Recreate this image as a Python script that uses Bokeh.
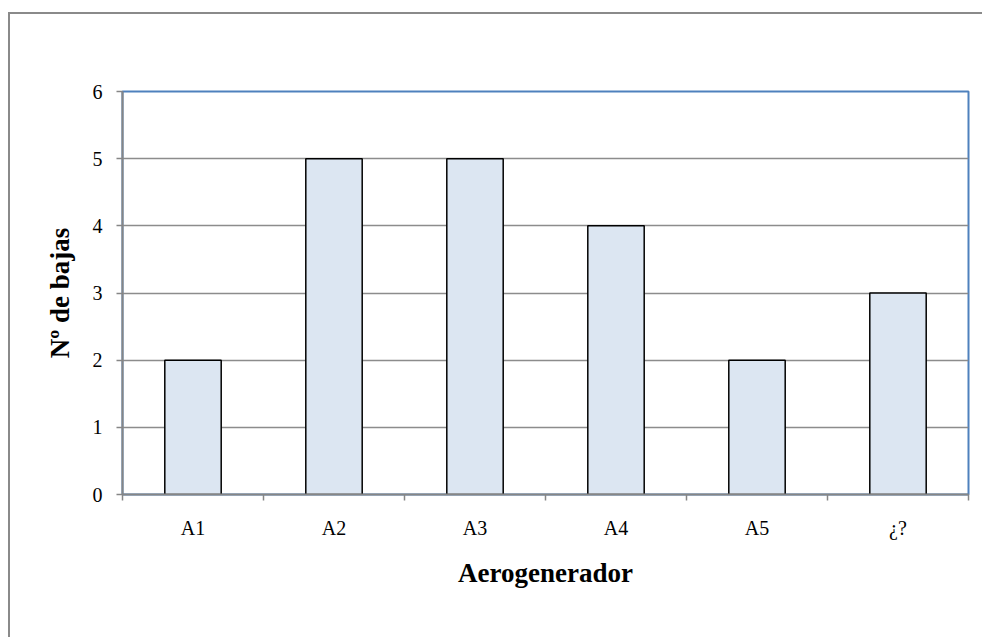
import numpy as np
from bokeh.plotting import figure
from bokeh.models import Range1d, FixedTicker, ColumnDataSource
from bokeh.embed import file_html
from bokeh.resources import INLINE

categories = ["A1", "A2", "A3", "A4", "A5", "¿?"]
bajas = [2, 5, 5, 4, 2, 3]
y_ticks = [0, 1, 2, 3, 4, 5, 6]

xpos = np.arange(len(categories)) + 0.5
src = ColumnDataSource(dict(x=xpos, top=bajas, cat=categories))

p = figure(width=974, height=625, output_backend="svg", toolbar_location=None,
           x_range=Range1d(0, len(categories)), y_range=Range1d(0, 6),
           min_border_left=112, min_border_top=77, min_border_right=16, min_border_bottom=145)
p.styles = {"border-left": "2px solid #8a8a8a", "border-top": "2px solid #8a8a8a",
            "margin-top": "12px", "margin-left": "8px"}

p.vbar(x="x", top="top", width=0.4, source=src, fill_color="#DCE6F2",
       line_color="#000000", line_width=1.5)

p.outline_line_color = "#4F81BD"
p.outline_line_width = 2
p.background_fill_color = "white"

# grid
p.xgrid.visible = False
p.ygrid.ticker = FixedTicker(ticks=y_ticks[1:-1])
p.ygrid.grid_line_color = "#8c8c8c"
p.ygrid.grid_line_width = 1.5

serif = "Liberation Serif"

# x axis
xa = p.xaxis[0]
xa.ticker = FixedTicker(ticks=list(xpos), minor_ticks=list(range(len(categories) + 1)))
xa.major_label_overrides = {float(x): c for x, c in zip(xpos, categories)}
xa.major_tick_out = 0
xa.major_tick_in = 0
xa.minor_tick_out = 6
xa.minor_tick_in = 0
xa.minor_tick_line_color = "#868686"
xa.minor_tick_line_width = 1.5
xa.axis_line_color = "#868686"
xa.axis_line_width = 2
xa.major_label_text_font = serif
xa.major_label_text_font_size = "20px"
xa.major_label_text_color = "#000000"
xa.major_label_standoff = 16
xa.axis_label = "Aerogenerador"
xa.axis_label_text_font = serif
xa.axis_label_text_font_style = "bold"
xa.axis_label_text_font_size = "27px"
xa.axis_label_text_color = "#000000"
xa.axis_label_standoff = 16

# y axis
ya = p.yaxis[0]
ya.ticker = FixedTicker(ticks=y_ticks, minor_ticks=[])
ya.major_tick_out = 6
ya.major_tick_in = 0
ya.major_tick_line_color = "#868686"
ya.major_tick_line_width = 1.5
ya.axis_line_color = "#868686"
ya.axis_line_width = 2
ya.major_label_text_font = serif
ya.major_label_text_font_size = "20px"
ya.major_label_text_color = "#000000"
ya.major_label_standoff = 14
ya.axis_label = "Nº de bajas"
ya.axis_label_text_font = serif
ya.axis_label_text_font_style = "bold"
ya.axis_label_text_font_size = "27px"
ya.axis_label_text_color = "#000000"
ya.axis_label_standoff = 15

open("out.html", "w").write(file_html(p, INLINE))
